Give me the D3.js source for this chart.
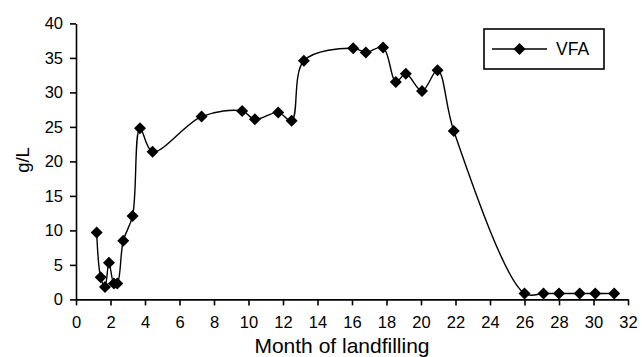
<!DOCTYPE html>
<html>
<head>
<meta charset="utf-8">
<script src="https://cdnjs.cloudflare.com/ajax/libs/d3/7.8.5/d3.min.js"></script>
<style>
  body { margin: 0; background: #fff; }
  svg text { font-family: "Liberation Sans", Arial, sans-serif; fill: #000; }
</style>
</head>
<body>
<div id="chart"></div>
<script>
"use strict";

// months after landfilling and VFA (g/L)
var months = [1.2, 1.43, 1.68, 1.91, 2.2, 2.39, 2.74, 3.28, 3.71, 4.44,
              7.28, 9.63, 10.37, 11.72, 12.5, 13.21, 16.07, 16.8, 17.8, 18.54,
              19.12, 20.06, 20.96, 21.9, 26.0, 27.1, 28.0, 29.2, 30.1, 31.2];
var vfa    = [9.7, 3.2, 1.8, 5.3, 2.3, 2.3, 8.5, 12.1, 24.8, 21.4,
              26.5, 27.3, 26.1, 27.1, 25.9, 34.6, 36.4, 35.8, 36.5, 31.5,
              32.7, 30.2, 33.2, 24.4, 0.85, 0.85, 0.85, 0.85, 0.85, 0.85];
var xTicks = d3.range(0, 33, 2);
var yTicks = d3.range(0, 41, 5);
var seriesName = "VFA";

var width = 642, height = 357;
var plotLeft = 76, plotRight = 628, plotTop = 23.4, plotBottom = 299.4;

var data = months.map(function(m, i){ return {x: m, y: vfa[i]}; });

var x = d3.scaleLinear().domain([0, 32]).range([plotLeft, plotRight]);
var y = d3.scaleLinear().domain([0, 40]).range([plotBottom, plotTop]);

var svg = d3.select("#chart").append("svg")
    .attr("width", width)
    .attr("height", height);

// diamond marker (square turned 45 degrees)
function diamond(r){
  return "M0," + (-r) + "L" + r + ",0L0," + r + "L" + (-r) + ",0Z";
}

// x axis
var xAxis = svg.append("g")
    .attr("transform", "translate(0," + plotBottom + ")")
    .call(d3.axisBottom(x).tickValues(xTicks).tickSize(6).tickPadding(11).tickSizeOuter(0));
xAxis.select(".domain").attr("stroke-width", 1.6);
xAxis.selectAll(".tick line").attr("stroke-width", 1.6);
xAxis.selectAll("text").style("font-size", "16.5px").attr("fill", "#000");

// y axis
var yAxis = svg.append("g")
    .attr("transform", "translate(" + plotLeft + ",0)")
    .call(d3.axisLeft(y).tickValues(yTicks).tickSize(6).tickPadding(7).tickSizeOuter(0));
yAxis.select(".domain").attr("stroke-width", 1.6);
yAxis.selectAll(".tick line").attr("stroke-width", 1.6);
yAxis.selectAll("text").style("font-size", "16.5px").attr("fill", "#000");

// axis titles
svg.append("text")
    .attr("x", 342)
    .attr("y", 353)
    .attr("text-anchor", "middle")
    .style("font-size", "21px")
    .text("Month of landfilling");

svg.append("text")
    .attr("transform", "translate(29,160) rotate(-90)")
    .attr("text-anchor", "middle")
    .style("font-size", "18.5px")
    .text("g/L");

// series line
var line = d3.line()
    .x(function(d){ return x(d.x); })
    .y(function(d){ return y(d.y); })
    .curve(d3.curveCatmullRom.alpha(0.5));

svg.append("path")
    .datum(data)
    .attr("d", line)
    .attr("fill", "none")
    .attr("stroke", "#000")
    .attr("stroke-width", 1.4);

svg.selectAll("path.marker")
    .data(data)
    .enter()
    .append("path")
    .attr("class", "marker")
    .attr("transform", function(d){ return "translate(" + x(d.x) + "," + y(d.y) + ")"; })
    .attr("d", diamond(6))
    .attr("fill", "#000");

// legend
var legend = svg.append("g").attr("transform", "translate(484,29)");
legend.append("rect")
    .attr("width", 120)
    .attr("height", 40)
    .attr("fill", "#fff")
    .attr("stroke", "#000")
    .attr("stroke-width", 1.6);
legend.append("line")
    .attr("x1", 8).attr("x2", 63)
    .attr("y1", 20).attr("y2", 20)
    .attr("stroke", "#000")
    .attr("stroke-width", 1.4);
legend.append("path")
    .attr("transform", "translate(35.5,20)")
    .attr("d", diamond(6))
    .attr("fill", "#000");
legend.append("text")
    .attr("x", 72)
    .attr("y", 26)
    .style("font-size", "17.5px")
    .text(seriesName);
</script>
</body>
</html>
